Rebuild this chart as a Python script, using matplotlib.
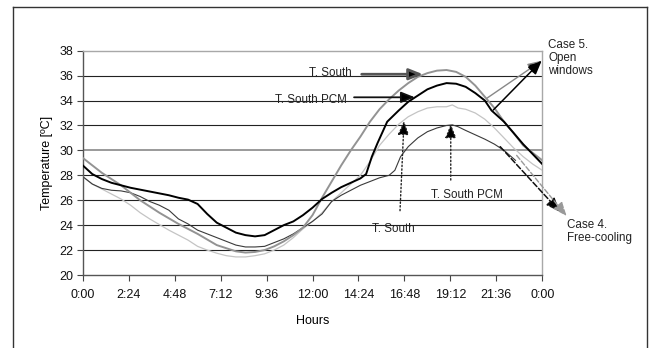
import matplotlib
matplotlib.use("Agg")
import matplotlib.pyplot as plt
from matplotlib.lines import Line2D

plt.rcParams['font.family'] = ['Liberation Sans', 'DejaVu Sans']

# ---------------- data ----------------
# Case 5 (open windows) - T. South (gray thick)
h_ts5 = [0, 1, 2, 3, 4, 5, 6, 7, 8, 8.5, 9, 9.5, 10, 10.5, 11, 11.5, 12, 12.5, 13, 13.5,
         14, 14.5, 15, 15.5, 16, 16.5, 17, 17.5, 18, 18.5, 19, 19.5, 20, 20.5, 21, 21.5,
         22, 22.5, 23, 23.5, 24]
t_ts5 = [29.4, 28.2, 27.2, 26.0, 25.0, 24.1, 23.3, 22.4, 21.9, 21.8, 21.85, 22.0, 22.3, 22.7,
         23.2, 23.8, 24.8, 26.2, 27.5, 28.8, 30.0, 31.1, 32.3, 33.3, 34.1, 34.8, 35.4, 35.9,
         36.2, 36.4, 36.45, 36.3, 35.9, 35.2, 34.3, 33.4, 32.3, 31.4, 30.4, 29.8, 29.2]

# Case 5 - T. South PCM (black thick)
h_tp5 = [0, 0.5, 1, 1.5, 2, 2.5, 3, 3.5, 4, 4.5, 5, 5.5, 6, 6.5, 7, 7.5, 8, 8.5, 9, 9.5,
         10, 10.5, 11, 11.5, 12, 12.5, 13, 13.5, 14, 14.5, 14.8, 15.1, 15.4, 15.9, 16.5,
         17, 17.5, 18, 18.5, 19, 19.5, 20, 20.5, 21, 21.35, 22, 22.5, 23, 23.5, 24]
t_tp5 = [28.8, 28.1, 27.7, 27.4, 27.2, 27.0, 26.85, 26.7, 26.55, 26.4, 26.2, 26.05, 25.7,
         24.9, 24.2, 23.8, 23.4, 23.2, 23.1, 23.2, 23.6, 24.0, 24.3, 24.8, 25.4, 26.1, 26.6,
         27.05, 27.4, 27.75, 28.1, 29.5, 30.6, 32.3, 33.2, 33.9, 34.4, 34.9, 35.2, 35.4,
         35.35, 35.1, 34.6, 34.0, 33.2, 32.3, 31.4, 30.5, 29.7, 28.9]

# Case 4 (free-cooling) - T. South (light gray thin)
h_ts4 = [0, 0.5, 1, 1.5, 2, 2.5, 3, 3.5, 4, 4.5, 5, 5.5, 6, 6.5, 7, 7.5, 8, 8.5, 9, 9.5,
         10, 10.5, 11, 11.5, 12, 12.5, 13, 13.5, 14, 14.5, 15, 15.5, 16, 16.5, 17, 17.5,
         18, 18.5, 19, 19.3, 19.6, 20, 20.5, 21, 21.5, 22, 22.5, 23, 23.5, 24]
t_ts4 = [27.9, 27.3, 26.9, 26.5, 26.1, 25.6, 25.0, 24.5, 24.05, 23.6, 23.2, 22.8, 22.3,
         22.0, 21.75, 21.55, 21.45, 21.45, 21.55, 21.7, 22.0, 22.4, 23.0, 23.7, 24.3, 25.0,
         25.9, 26.6, 27.3, 28.0, 29.1, 30.4, 31.3, 32.1, 32.7, 33.1, 33.4, 33.5, 33.5,
         33.65, 33.4, 33.3, 33.0, 32.5, 31.8, 31.0, 30.2, 29.5, 28.9, 28.4]

# Case 4 - T. South PCM (black thin)
h_tp4 = [0, 0.5, 1, 1.5, 2, 2.5, 3, 3.5, 4, 4.5, 5, 5.5, 6, 6.5, 7, 7.5, 8, 8.5, 9, 9.5,
         10, 10.5, 11, 11.5, 12, 12.5, 13, 13.5, 14, 14.5, 15, 15.5, 16, 16.3, 16.6, 17,
         17.5, 18, 18.5, 19, 19.3, 19.6, 20, 20.5, 21, 21.5, 22, 22.6]
t_tp4 = [27.9, 27.3, 26.95, 26.8, 26.75, 26.6, 26.3, 25.9, 25.6, 25.2, 24.5, 24.1, 23.6,
         23.3, 23.0, 22.7, 22.4, 22.25, 22.25, 22.3, 22.6, 22.9, 23.3, 23.8, 24.3, 24.9,
         25.9, 26.4, 26.8, 27.2, 27.5, 27.8, 28.0, 28.4, 29.5, 30.3, 31.0, 31.5, 31.8,
         32.0, 32.05, 31.9, 31.6, 31.25, 30.9, 30.5, 30.0, 29.2]

xtick_pos = [0, 2.4, 4.8, 7.2, 9.6, 12, 14.4, 16.8, 19.2, 21.6, 24]
xtick_labels = ['0:00', '2:24', '4:48', '7:12', '9:36', '12:00', '14:24', '16:48',
                '19:12', '21:36', '0:00']
ytick_pos = [20, 22, 24, 26, 28, 30, 32, 34, 36, 38]

# ---------------- figure ----------------
fig = plt.figure(figsize=(6.56, 3.48), dpi=100)
W, H = 656, 348
ax = fig.add_axes([82.7 / W, 73 / H, (542.3 - 82.7) / W, (275 - 50.7) / H])

# outer frame (open at bottom)
frame_kw = dict(color='#333333', lw=1.0, transform=fig.transFigure)
fig.add_artist(Line2D([13 / W, 13 / W], [0, 1 - 7 / H], **frame_kw))
fig.add_artist(Line2D([13 / W, 647 / W], [1 - 7 / H, 1 - 7 / H], **frame_kw))
fig.add_artist(Line2D([647 / W, 647 / W], [1 - 7 / H, 0], **frame_kw))

# gridlines
for y in ytick_pos[1:-1]:
    if y == 30:
        ax.axhline(y, color='#9a9a9a', lw=1.4, zorder=1)
    else:
        ax.axhline(y, color='#222222', lw=0.8, zorder=1)

ax.plot(h_ts4, t_ts4, color='#c4c4c4', lw=0.9, zorder=3)
ax.plot(h_tp4, t_tp4, color='#3a3a3a', lw=0.8, zorder=3)
ax.plot(h_ts5, t_ts5, color='#939393', lw=1.4, zorder=4)
ax.plot(h_tp5, t_tp5, color='#000000', lw=1.4, zorder=5)

ax.set_xlim(0, 24)
ax.set_ylim(20, 38)
ax.set_xticks(xtick_pos)
ax.set_xticklabels(xtick_labels)
ax.set_yticks(ytick_pos)
ax.tick_params(direction='out', length=4, width=0.8, color='#444444', labelsize=9,
               labelcolor='#111111')
ax.tick_params(axis='x', pad=6)
ax.tick_params(axis='y', pad=3)
for s in ['left', 'bottom']:
    ax.spines[s].set_color('#555555')
    ax.spines[s].set_linewidth(1.0)
for s in ['top', 'right']:
    ax.spines[s].set_color('#a8a8a8')
    ax.spines[s].set_linewidth(1.0)

ax.set_xlabel('Hours', fontsize=9, labelpad=10)
ax.set_ylabel('Temperature [ºC]', fontsize=9, labelpad=4)

fs = 8.4
tc = '#222222'
# annotations
def arrow(tail, head, color='black', lw=1.0, ls='-', hc='black'):
    ax.annotate('', xy=head, xytext=tail, annotation_clip=False,
                arrowprops=dict(arrowstyle='-|>,head_length=0.7,head_width=0.28',
                                color=color, lw=lw, ls=ls, fc=hc, ec=color,
                                shrinkA=0, shrinkB=0, mutation_scale=12), zorder=6)

ax.text(12.92, 36.24, 'T. South', fontsize=fs, color=tc, ha='center', va='center', zorder=6)
arrow((14.57, 36.11), (17.77, 36.11), color='#555555', lw=2.0)
ax.text(11.91, 34.04, 'T. South PCM', fontsize=fs, color=tc, ha='center', va='center', zorder=6)
arrow((14.17, 34.26), (17.35, 34.26), color='#111111', lw=1.3)

arrow((16.57, 25.16), (16.78, 32.38), color='#222222', lw=1.0, ls=':')
ax.text(16.24, 23.67, 'T. South', fontsize=fs, color=tc, ha='center', va='center', zorder=6)
arrow((19.22, 27.62), (19.22, 32.12), color='#222222', lw=1.0, ls=':')
ax.text(20.09, 26.42, 'T. South PCM', fontsize=fs, color=tc, ha='center', va='center', zorder=6)

arrow((21.1, 34.18), (23.97, 37.2), color='#888888', lw=1.0, hc='black')
arrow((21.44, 33.24), (23.97, 37.2), color='#000000', lw=1.1)
ax.text(24.3, 38.9, 'Case 5.\nOpen\nwindows', fontsize=fs, color=tc, ha='left', va='top',
        linespacing=1.1, zorder=6)

arrow((21.8, 30.3), (24.92, 25.08), color='#111111', lw=1.1, ls='--')
arrow((22.66, 29.6), (25.27, 24.73), color='#999999', lw=1.0, ls='--', hc='#999999')
ax.text(25.27, 24.5, 'Case 4.\nFree-cooling', fontsize=fs, color=tc, ha='left', va='top',
        linespacing=1.15, zorder=6)

fig.savefig('out.png', dpi=100)
